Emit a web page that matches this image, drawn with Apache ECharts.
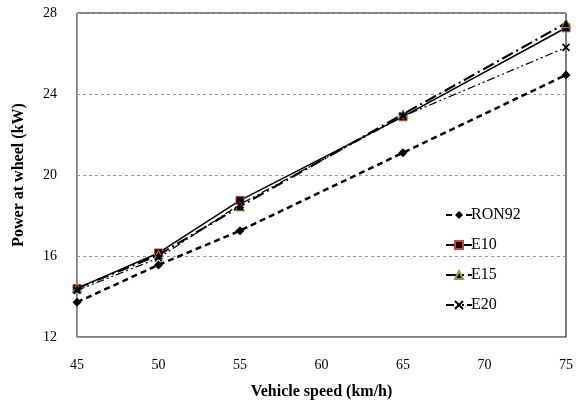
<!DOCTYPE html>
<html><head><meta charset="utf-8">
<script src="https://cdn.jsdelivr.net/npm/echarts@6/dist/echarts.min.js"></script>
<style>html,body{margin:0;padding:0;background:#fff}#c{width:576px;height:405px}</style>
</head><body><div id="c"></div>
<script>
const speeds = [45, 50, 55, 65, 75];
const ron92 = [13.72, 15.56, 17.25, 21.1, 24.94];
const e10 = [14.4, 16.15, 18.75, 22.88, 27.27];
const e15 = [14.4, 16.05, 18.45, 23.0, 27.5];
const e20 = [14.3, 15.9, 18.55, 22.9, 26.3];
const xTicks = {min: 45, max: 75, interval: 5};
const yTicks = {min: 12, max: 28, interval: 4};

const font = '"Liberation Serif", "Times New Roman", serif';
const pair = arr => speeds.map((s, i) => [s, arr[i]]);
const xPath = 'path://M0,0L10,10M10,0L0,10';

const chart = echarts.init(document.getElementById('c'), null, {renderer: 'canvas'});
chart.setOption({
  animation: false,
  backgroundColor: '#fff',
  grid: {left: 77, right: 10, top: 13, bottom: 63, show: true, borderColor: '#000', borderWidth: 1},
  xAxis: {
    type: 'value', min: xTicks.min, max: xTicks.max, interval: xTicks.interval,
    name: 'Vehicle speed (km/h)', nameLocation: 'middle', nameGap: 47,
    nameTextStyle: {fontFamily: font, fontSize: 16, fontWeight: 'bold', color: '#000'},
    axisLine: {lineStyle: {color: '#999', width: 1}},
    axisTick: {show: false},
    axisLabel: {margin: 21, fontFamily: font, fontSize: 14, color: '#000'},
    splitLine: {show: false}
  },
  yAxis: {
    type: 'value', min: yTicks.min, max: yTicks.max, interval: yTicks.interval,
    name: 'Power at wheel (kW)', nameLocation: 'middle', nameGap: 50,
    nameTextStyle: {fontFamily: font, fontSize: 16, fontWeight: 'bold', color: '#000'},
    axisLine: {show: true, lineStyle: {color: '#999', width: 1}},
    axisTick: {show: false},
    axisLabel: {margin: 20, fontFamily: font, fontSize: 14, color: '#000'},
    splitLine: {show: true, lineStyle: {color: '#999', type: [3, 3], width: 1}}
  },
  legend: {
    orient: 'vertical', left: 440, top: 202, itemGap: 14, itemWidth: 26, itemHeight: 10,
    textStyle: {fontFamily: font, fontSize: 16, color: '#000', padding: [0, 0, 0, -6]},
    data: ['RON92', 'E10', 'E15', 'E20']
  },
  series: [
    {name: 'RON92', type: 'line', data: pair(ron92), symbol: 'diamond', symbolSize: 9,
      lineStyle: {color: '#000', width: 2.5, type: [6, 4]},
      itemStyle: {color: '#000', borderColor: '#000', borderWidth: 0}, z: 2},
    {name: 'E10', type: 'line', data: pair(e10), symbol: 'rect', symbolSize: 8,
      lineStyle: {color: '#000', width: 1.5, type: 'solid'},
      itemStyle: {color: '#000', borderColor: '#d04040', borderWidth: 1}, z: 3},
    {name: 'E15', type: 'line', data: pair(e15), symbol: 'triangle', symbolSize: 9,
      lineStyle: {color: '#000', width: 2.2, type: [12, 4, 2, 4]},
      itemStyle: {color: '#000', borderColor: '#8aa040', borderWidth: 1}, z: 4},
    {name: 'E20', type: 'line', data: pair(e20), symbol: xPath, symbolSize: 7,
      lineStyle: {color: '#000', width: 1.2, type: [8, 3, 2, 3, 2, 3]},
      itemStyle: {color: '#000', borderColor: '#000', borderWidth: 1.6}, z: 5}
  ]
});
</script></body></html>
